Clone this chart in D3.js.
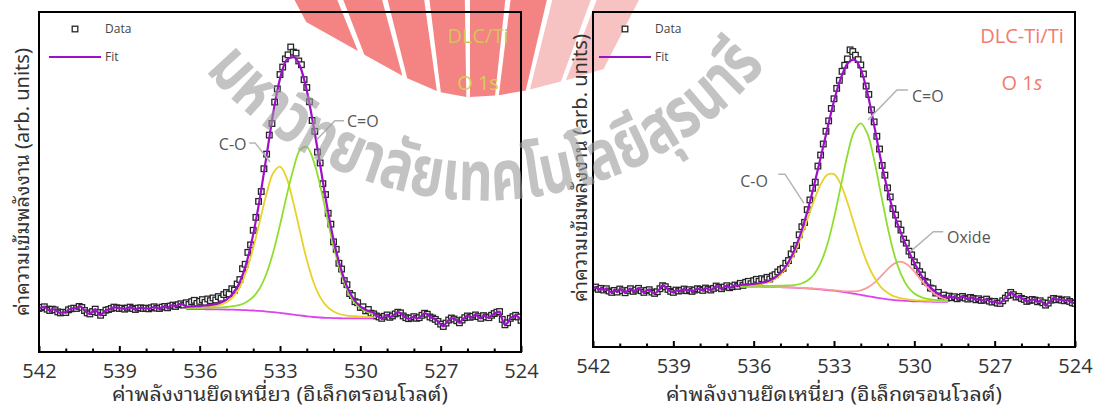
<!DOCTYPE html>
<html>
<head>
<meta charset="utf-8">
<script src="https://cdn.jsdelivr.net/npm/d3@7"></script>
<style>
  body { margin: 0; background: #fff; }
  svg { display: block; }
</style>
</head>
<body>
<svg id="chart" width="1102" height="410"></svg>
<script>
"use strict";

// measured spectra: binding energy starts at 542 eV, 0.1 eV step
var eStart = 542, eStep = 0.1;
// fitted curves: 0.25 eV step from fitStart
var fitStart = 536.5, fitStep = 0.25;

var xTicks = [542, 539, 536, 533, 530, 527, 524];
var xMinor = [541, 540, 538, 537, 535, 534, 532, 531, 529, 528, 526, 525];

// ---- DLC/Ti, O 1s ----
var dataL = [
  12.8,13.1,13.3,12.6,12.2,12.6,12.4,11.8,11.5,11.7,
  11.6,12.4,12.7,12.9,12.8,13.4,13.1,12.2,11.5,11.2,
  11.9,12.6,11.6,10.8,11.6,12.3,12.5,12.8,13.2,13.0,
  12.8,12.9,12.6,12.9,13.2,12.8,12.5,12.9,13.0,12.8,
  12.9,12.7,13.0,13.3,12.9,12.8,13.2,13.4,13.0,13.5,
  13.8,13.4,13.9,14.2,13.8,
  14.5,14.0,14.8,15.2,14.3,14.9,15.4,14.6,15.6,15.1,
  15.9,15.3,16.3,15.8,16.9,17.5,17.1,18.6,18.2,20.0,
  21.3,24.5,25.8,29.3,31.5,35.8,39.6,44.3,47.2,53.9,
  58.2,63.8,67.2,73.5,77.4,81.6,83.8,86.2,87.4,89.7,
  88.2,87.9,85.6,84.5,80.1,77.8,73.6,68.1,64.9,58.8,
  55.6,49.5,46.3,40.8,37.6,32.4,30.2,26.1,24.4,21.0,
  19.8,17.2,16.6,14.8,14.5,13.1,13.3,12.1,12.5,11.4,
  11.2,10.6,10.3,9.9,10.5,10.9,10.2,10.6,11.2,11.7,
  11.5,10.6,10.1,9.8,10.0,10.4,9.9,10.1,10.8,11.4,
  11.1,10.3,10.0,9.6,9.0,8.2,7.5,8.5,9.4,10.0,
  9.7,9.2,8.6,9.4,10.1,10.6,10.2,10.5,10.9,10.4,
  9.9,10.7,10.3,10.1,10.8,11.3,11.7,11.9,9.6,8.0,
  8.6,9.9,10.4,10.8,10.3,9.3
];
var fitL = [13.34,13.44,13.52,13.68,13.91,14.41,15.38,17.27,20.58,26.3,34.6,45.32,57.85,70.45,80.4,
  85.9,86.7,84.05,76.9,66.6,54.95,43.2,33.0,25.1,19.3,15.59,13.4,12.18,11.48];
var bgL = [12.6,12.6,12.6,12.58,12.55,12.52,12.48,12.44,12.38,12.3,12.2,12.07,11.9,11.7,11.48,
  11.25,11.0,10.75,10.5,10.3,10.15,10.05,9.98,9.93,9.9,9.9,9.9,9.9,9.9];
var coL = [12.99,13.07,13.12,13.23,13.41,13.81,14.63,16.22,19.13,23.9,30.6,38.57,46.6,52.7,54.5,
  51.15,43.9,35.35,27.1,20.6,16.15,13.4,11.9,11.1,10.7,10.54,10.4,10.33,10.28];
var dcoL = [12.95,12.97,13.0,13.03,13.05,13.12,13.23,13.49,13.83,14.7,16.2,18.82,23.15,29.45,37.38,
  46.0,53.8,59.45,60.3,56.3,48.95,39.85,31.08,23.93,18.5,14.95,12.9,11.75,11.1];

// ---- DLC-Ti/Ti, O 1s ----
var dataR = [
  17.6,17.9,17.2,17.5,17.0,17.4,16.7,16.3,16.9,16.4,
  17.3,16.8,16.2,16.9,17.4,16.6,17.0,17.5,16.8,16.3,
  16.9,17.1,16.4,16.0,16.5,17.4,18.3,18.0,17.2,16.6,
  16.3,17.0,16.7,16.9,17.3,16.8,17.1,16.6,17.0,17.4,
  17.2,16.9,17.6,17.3,17.0,17.5,18.2,17.8,17.4,17.9,
  18.3,17.7,18.0,18.5,18.1,
  19.0,18.4,19.3,19.6,18.9,19.8,20.2,19.6,20.4,20.1,
  20.8,20.3,21.2,21.6,22.4,23.1,23.5,25.0,25.8,27.8,
  29.2,30.3,33.5,35.9,37.2,41.0,43.9,47.4,49.2,54.0,
  57.3,60.6,64.4,67.5,71.2,74.1,77.2,79.6,82.3,84.1,
  86.0,88.7,88.2,87.1,85.8,84.2,81.5,77.9,75.4,70.8,
  67.2,62.9,59.1,54.2,51.3,47.5,44.8,41.3,39.4,36.7,
  34.9,32.2,31.0,28.6,27.5,25.4,24.3,22.5,21.5,19.6,
  19.2,17.6,17.4,16.1,16.3,15.2,15.5,14.6,
  15.2,14.7,15.0,14.4,14.8,15.1,14.6,14.3,14.8,14.5,
  14.1,14.4,13.9,14.0,14.3,13.7,13.4,13.6,13.1,13.0,
  13.8,14.6,15.4,16.3,15.6,14.9,15.1,14.5,14.2,13.6,
  13.9,14.2,14.0,13.5,13.8,13.2,12.5,13.1,14.0,14.5,
  14.1,14.3,14.0,13.8,14.1,13.6,13.2,13.0
];
var fitR = [18.52,18.63,18.81,19.1,19.59,20.49,22.14,24.7,28.51,33.73,40.26,48.03,56.49,65.1,73.43,
  80.1,84.55,85.79,82.86,75.83,66.1,55.8,46.9,39.6,34.05,29.3,25.13,21.56,18.74,16.68,15.42,14.68];
var bgR = [18.0,18.0,18.0,18.0,17.95,17.9,17.85,17.8,17.7,17.6,17.5,17.35,17.2,17.0,16.8,
  16.55,16.25,15.9,15.55,15.2,14.85,14.5,14.2,14.0,13.85,13.75,13.65,13.6,13.55,13.5,13.5,13.5];
var coR = [18.31,18.39,18.53,18.79,19.24,20.1,21.65,24.1,27.67,32.4,37.9,43.65,48.5,51.4,51.6,
  48.6,43.2,36.7,30.3,24.9,20.8,17.9,16.2,15.1,14.55,14.2,13.98,13.88,13.8,13.72,13.69,13.67];
var dcoR = [18.19,18.22,18.25,18.28,18.27,18.26,18.3,18.36,18.49,18.88,19.8,21.65,25.1,30.6,38.5,
  47.85,57.25,64.3,66.75,63.6,55.85,45.8,35.9,27.6,21.75,18.05,15.95,14.88,14.34,14.06,13.95,13.86];
var oxR = [18.02,18.02,18.03,18.03,17.98,17.93,17.89,17.84,17.75,17.65,17.56,17.43,17.29,17.1,16.93,
  16.75,16.6,16.59,16.91,17.73,19.15,21.1,23.2,24.9,25.45,24.55,22.5,20.0,17.7,15.9,14.78,14.15];

// annotations: text, text anchor (eV, value), leader start, elbow, tip (eV, value)
var notesL = [
  ["C-O", 534.25, 59.4, "end",   534.15, 61.5, 533.93, 61.5, 533.37, 55.9],
  ["C=O", 530.50, 66.3, "start", 530.61, 68.0, 530.95, 68.0, 531.63, 62.4]
];
var notesR = [
  ["C=O",   530.09, 73.1, "start", 530.24, 76.7, 530.65, 76.7, 531.73, 67.8],
  ["C-O",   535.47, 47.8, "end",   535.08, 51.6, 534.83, 51.6, 534.12, 42.9],
  ["Oxide", 528.78, 31.0, "start", 528.92, 34.4, 529.29, 34.4, 530.16, 28.4]
];

var FIT = "#9c10c9", BG = "#dd44ee", CO = "#e8d229", DCO = "#8fde2e", OX = "#fb9c9c";
var SANS = "'Open Sans', 'Noto Sans', sans-serif";
var THAI = "'Noto Sans Thai Looped', Loma, Garuda, 'Noto Sans Thai', 'Noto Sans Thai UI', 'DejaVu Sans', sans-serif";
var THAI_WM = "'Noto Sans Thai', 'Noto Sans Thai UI', Garuda, sans-serif";

var svg = d3.select("#chart");

// ---- logo stripes of the watermark, under everything ----
var logo = svg.append("g").attr("pointer-events", "none");
var fx = 470, fy = 330;
var stripes = [-28, -21, -14, -7, 0, 7, 14, 21];
stripes.forEach(function(a) {
  var a0 = a * Math.PI / 180, a1 = (a + 6.1) * Math.PI / 180;
  var yb = function(t) {
    var u = t * 180 / Math.PI / 28;
    return u < 0 ? 97 - 75 * u * u : 97 - 30 * u * u;
  };
  var pt = function(t, yy) { return [fx + (fy - yy) * Math.tan(t), yy]; };
  var poly = [pt(a0, -5), pt(a1, -5), pt(a1, yb(a1)), pt(a0, yb(a0))];
  logo.append("polygon").attr("points", poly.join(" "))
    .attr("fill", a < 10 ? "#ef4f4f" : "#f29a9a").attr("opacity", a < 10 ? 0.7 : 0.6);
});

var panels = [
  { x0: 39, x1: 521, top: 12, bottom: 352, data: dataL, fit: fitL,
    comps: [[bgL, BG], [coL, CO], [dcoL, DCO]], notes: notesL,
    title: "DLC/Ti", titleColor: "#d5c25c", sColor: "#d9cc58", sItalic: false, titleX: 478,
    legX: 49, yTitleX: 22, yTitleY: 182 },
  { x0: 593, x1: 1075, top: 12, bottom: 347, data: dataR, fit: fitR,
    comps: [[bgR, BG], [oxR, OX], [coR, CO], [dcoR, DCO]], notes: notesR,
    title: "DLC-Ti/Ti", titleColor: "#f47a70", sColor: "#f47a70", sItalic: true, titleX: 1022,
    legX: 599, yTitleX: 580, yTitleY: 168 }
];

panels.forEach(function(p, k) {
  var x = d3.scaleLinear().domain([542, 524]).range([p.x0, p.x1]);
  var y = d3.scaleLinear().domain([0, 100]).range([p.bottom, p.top]);
  var g = svg.append("g");

  g.append("clipPath").attr("id", "clip" + k)
    .append("rect").attr("x", p.x0).attr("y", p.top)
    .attr("width", p.x1 - p.x0).attr("height", p.bottom - p.top);
  var plot = g.append("g").attr("clip-path", "url(#clip" + k + ")");

  var pts = p.data.map(function(v, i) { return { e: eStart - i * eStep, v: v }; });
  var fitEnd = fitStart - (p.fit.length - 1) * fitStep;
  var onGrid = function(arr) { return arr.map(function(v, i) { return { e: fitStart - i * fitStep, v: v }; }); };
  var env = pts.filter(function(d) { return d.e > fitStart + 1e-6; })
    .concat(onGrid(p.fit), pts.filter(function(d) { return d.e < fitEnd - 1e-6; }));

  // data squares
  plot.selectAll("rect.pt").data(pts).join("rect")
    .attr("class", "pt")
    .attr("x", function(d) { return x(d.e) - 2.8; })
    .attr("y", function(d) { return y(d.v) - 2.8; })
    .attr("width", 5.6).attr("height", 5.6)
    .attr("fill", "#fff").attr("stroke", "#262626").attr("stroke-width", 1.3);

  var smooth = d3.line().x(function(d) { return x(d.e); }).y(function(d) { return y(d.v); })
    .curve(d3.curveCatmullRom.alpha(0.5));
  p.comps.forEach(function(c) {
    plot.append("path").datum(onGrid(c[0])).attr("d", smooth)
      .attr("fill", "none").attr("stroke", c[1]).attr("stroke-width", 1.8);
  });

  plot.append("path").datum(env)
    .attr("d", d3.line().x(function(d) { return x(d.e); }).y(function(d) { return y(d.v); })
      .curve(d3.curveMonotoneX))
    .attr("fill", "none").attr("stroke", FIT).attr("stroke-width", 2.2);

  // annotations with leader lines
  p.notes.forEach(function(n) {
    g.append("polyline")
      .attr("points", [[x(n[4]), y(n[5])], [x(n[6]), y(n[7])], [x(n[8]), y(n[9])]].join(" "))
      .attr("fill", "none").attr("stroke", "#b4b4b4").attr("stroke-width", 1.5);
    g.append("text").attr("x", x(n[1])).attr("y", y(n[2]))
      .attr("text-anchor", n[3]).attr("font-family", SANS).attr("font-size", 16)
      .attr("fill", "#555").text(n[0]);
  });

  // frame
  g.append("rect").attr("x", p.x0).attr("y", p.top)
    .attr("width", p.x1 - p.x0).attr("height", p.bottom - p.top)
    .attr("fill", "none").attr("stroke", "#000").attr("stroke-width", 2);

  // bottom axis, inward ticks
  var ax = g.append("g").attr("transform", "translate(0," + p.bottom + ")")
    .call(d3.axisBottom(x).tickValues(xTicks).tickSize(-6).tickPadding(12).tickFormat(d3.format("d")));
  ax.select(".domain").remove();
  ax.selectAll("line").attr("stroke", "#000").attr("stroke-width", 2);
  ax.selectAll("text").attr("font-family", SANS).attr("font-size", 20).attr("fill", "#333");
  var axm = g.append("g").attr("transform", "translate(0," + p.bottom + ")")
    .call(d3.axisBottom(x).tickValues(xMinor).tickSize(-3.5).tickFormat(""));
  axm.select(".domain").remove();
  axm.selectAll("line").attr("stroke", "#000").attr("stroke-width", 2);

  // axis titles
  g.append("text").attr("x", (p.x0 + p.x1) / 2).attr("y", 401)
    .attr("text-anchor", "middle").attr("font-family", THAI).attr("font-size", 20).attr("fill", "#333")
    .attr("textLength", 336).attr("lengthAdjust", "spacingAndGlyphs")
    .text("ค่าพลังงานยึดเหนี่ยว (อิเล็กตรอนโวลต์)");
  g.append("text").attr("transform", "translate(" + (p.yTitleX + 7) + "," + p.yTitleY + ") rotate(-90)")
    .attr("text-anchor", "middle").attr("font-family", THAI).attr("font-size", 20).attr("fill", "#333")
    .text("ค่าความเข้มพลังงาน (arb. units)");

  // legend
  g.append("rect").attr("x", p.legX + 26 - 2.8).attr("y", 29 - 2.8).attr("width", 5.6).attr("height", 5.6)
    .attr("fill", "#fff").attr("stroke", "#262626").attr("stroke-width", 1.3);
  g.append("text").attr("x", p.legX + 56).attr("y", 33).attr("font-family", SANS)
    .attr("font-size", 12).attr("fill", "#444").text("Data");
  g.append("line").attr("x1", p.legX).attr("x2", p.legX + 52).attr("y1", 57).attr("y2", 57)
    .attr("stroke", FIT).attr("stroke-width", 2.2);
  g.append("text").attr("x", p.legX + 56).attr("y", 61).attr("font-family", SANS)
    .attr("font-size", 12).attr("fill", "#444").text("Fit");

  // sample / core level
  g.append("text").attr("x", p.titleX).attr("y", 43).attr("text-anchor", "middle")
    .attr("font-family", SANS).attr("font-size", 20).attr("fill", p.titleColor).text(p.title);
  var t2 = g.append("text").attr("x", p.titleX).attr("y", 90).attr("text-anchor", "middle")
    .attr("font-family", SANS).attr("font-size", 20).attr("fill", p.sColor);
  t2.append("tspan").text("O 1");
  t2.append("tspan").attr("font-style", p.sItalic ? "italic" : "normal").text("s");
});

// ---- watermark: university name along an arc ----
var cx = 483.5, cy = -162.6, r = 363;
var th0 = 140 * Math.PI / 180, th1 = 37 * Math.PI / 180;
var wm = svg.append("g").attr("pointer-events", "none");
wm.append("path").attr("id", "wmArc")
  .attr("d", "M" + (cx + r * Math.cos(th0)) + "," + (cy + r * Math.sin(th0)) +
    " A" + r + "," + r + " 0 0,0 " + (cx + r * Math.cos(th1)) + "," + (cy + r * Math.sin(th1)))
  .attr("fill", "none");
wm.append("text").attr("font-family", THAI_WM).attr("font-weight", "bold").attr("font-size", 70)
  .attr("fill", "#9c9c9c").attr("opacity", 0.6)
  .append("textPath").attr("href", "#wmArc").attr("textLength", 640).attr("lengthAdjust", "spacingAndGlyphs")
  .text("มหาวิทยาลัยเทคโนโลยีสุรนารี");
</script>
</body>
</html>
